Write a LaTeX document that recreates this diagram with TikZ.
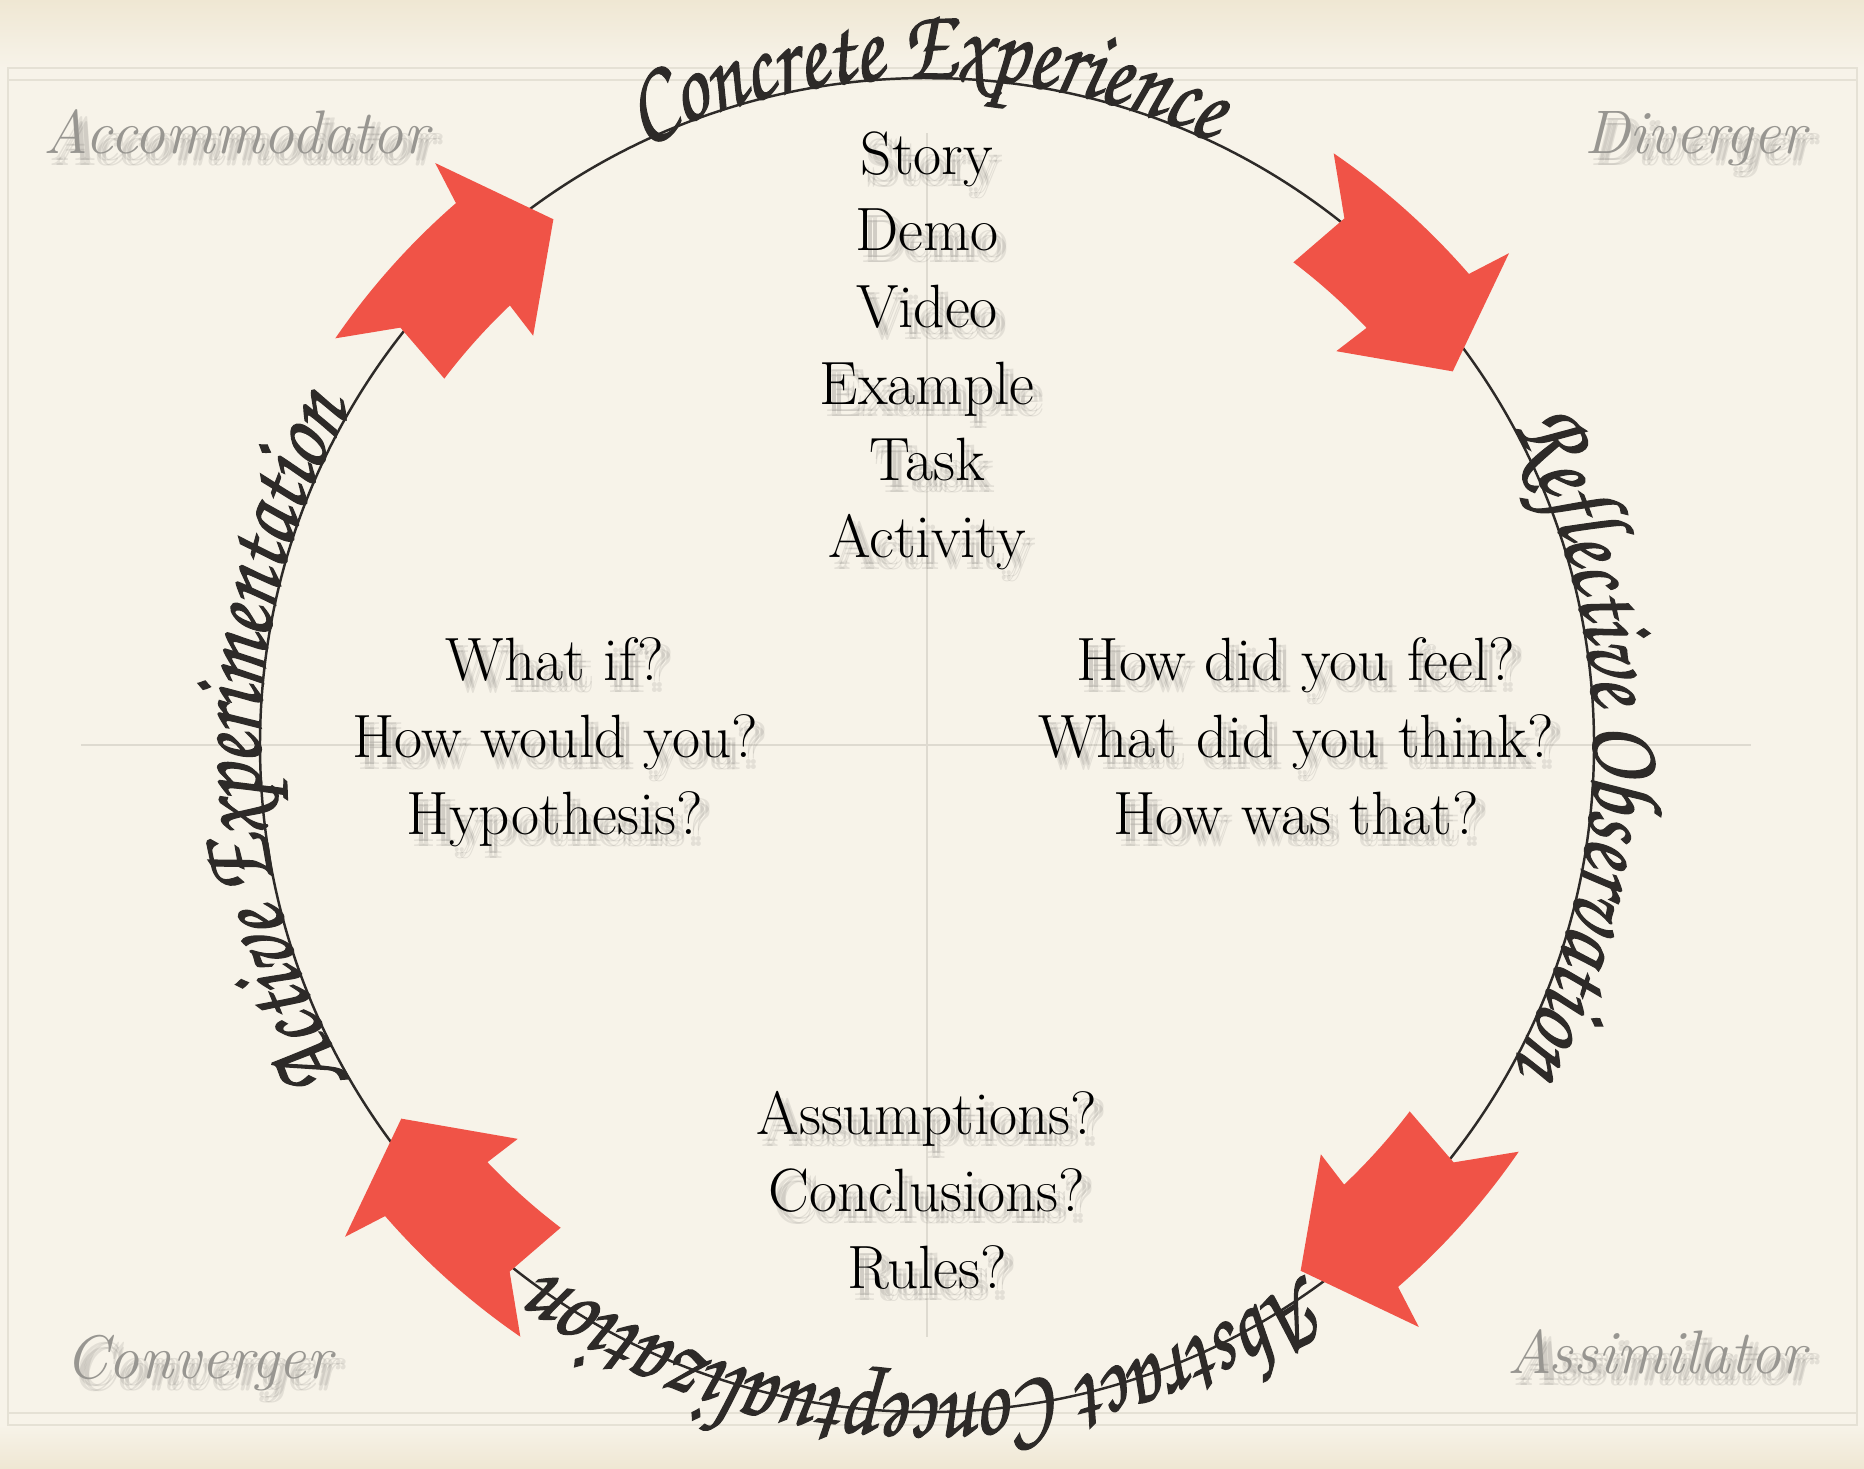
\documentclass[tikz,border=0pt]{standalone}
\usepackage{fontspec}
\usepackage{tikz}
\usetikzlibrary{calc,decorations.text}
\newfontfamily\handfont[FakeStretch=0.8,FakeBold=1.2]{texgyrechorus-mediumitalic.otf}
\definecolor{PaperCream}{RGB}{247,243,233}
\definecolor{PaperTop}{RGB}{239,231,211}
\definecolor{FrameGray}{RGB}{229,225,213}
\definecolor{CrossGray}{RGB}{222,218,208}
\definecolor{ArrowRed}{RGB}{240,83,71}
\definecolor{InkDark}{RGB}{45,42,40}
\definecolor{StyleGray}{RGB}{152,150,145}
\tikzstyle{listText}=[anchor=base, inner sep=0pt, text=black, font=\fontsize{17.4}{21.8}\selectfont]
\tikzstyle{styleLabel}=[inner sep=0pt, text=StyleGray, font=\fontsize{17.5}{21}\selectfont\itshape]
\tikzstyle{shadowCopy}=[text=black, text opacity=0.08]
\tikzstyle{cycleArrow}=[fill=ArrowRed, draw=none]
\tikzstyle{crossLine}=[draw=CrossGray, line width=0.4pt]
\tikzstyle{frameLine}=[draw=FrameGray, line width=0.8pt]
\tikzset{stageText/.style={decorate, decoration={text along path, text align=center, text color=InkDark, text={|\handfont\fontsize{29.5}{29.5}\selectfont|#1}}}}
\newcommand{\dropshadow}[3]{% blurred shadow behind a text
  \foreach \sx/\sy in {5/-7,10/-7,5/-12,10/-12}
    \node[#1, shadowCopy, shift={(\sx,\sy)}] at (#2) {#3};
}

\begin{document}
\begin{tikzpicture}[x=0.1mm, y=0.1mm]
	\useasboundingbox (0,0) rectangle (1864,-1468);

	% Paper and frame
	\fill[PaperCream] (0,0) rectangle (1864,-1468);
	\shade[top color=PaperTop, bottom color=PaperCream] (0,0) rectangle (1864,-68);
	\shade[top color=PaperCream, bottom color=PaperTop] (0,-1425) rectangle (1864,-1468);
	\draw[frameLine] (8,-68) rectangle (1857,-1425);
	\draw[frameLine] (8,-80) -- (1857,-80);
	\draw[frameLine] (8,-1413) -- (1857,-1413);

	% Cross
	\coordinate (ctr) at (927,-745);
	\draw[crossLine] (927,-133) -- (927,-1337);
	\draw[crossLine] (81,-745) -- (1751,-745);

	% Cycle
	\draw[InkDark, line width=0.7pt] (ctr) circle[radius=667];

	% Arrows, clockwise
	\foreach \b in {45,135,225,315} {
		\fill[cycleArrow] ($(ctr)+({\b+10.5}:718)$) arc[start angle={\b+10.5}, end angle={\b-4}, radius=718]
			-- ($(ctr)+({\b-4.8}:762)$) -- ($(ctr)+({\b-9.6}:645)$) -- ($(ctr)+({\b-1.1}:568)$)
			-- ($(ctr)+({\b-1.5}:606)$) arc[start angle={\b-1.5}, end angle={\b+7.8}, radius=606]
			-- ($(ctr)+({\b+6.6}:672)$) -- cycle;
	}

	% Stages along the cycle
	\path[stageText={Concrete Experience}] ([shift={(135:667)}]ctr) arc[start angle=135, end angle=45, radius=667];
	\path[stageText={Reflective Observation}] ([shift={(45:667)}]ctr) arc[start angle=45, end angle=-45, radius=667];
	\path[stageText={Abstract Conceptualization}] ([shift={(-45:650)}]ctr) arc[start angle=-45, end angle=-135, radius=650];
	\path[stageText={Active Experimentation}] ([shift={(225:667)}]ctr) arc[start angle=225, end angle=135, radius=667];

	% Learning styles
	\dropshadow{styleLabel, anchor=base west}{43,-153}{Accommodator}
	\node[styleLabel, anchor=base west] (acc) at (43,-153) {Accommodator};
	\dropshadow{styleLabel, anchor=base east}{1807,-153}{Diverger}
	\node[styleLabel, anchor=base east] (div) at (1807,-153) {Diverger};
	\dropshadow{styleLabel, anchor=base west}{65,-1378}{Converger}
	\node[styleLabel, anchor=base west] (con) at (65,-1378) {Converger};
	\dropshadow{styleLabel, anchor=base east}{1807,-1373}{Assimilator}
	\node[styleLabel, anchor=base east] (ass) at (1807,-1373) {Assimilator};

	% Concrete experience
	\foreach \word [count=\i] in {Story,Demo,Video,Example,Task,Activity} {
		\dropshadow{listText}{927,{-174-76.7*(\i-1)}}{\word}
		\node[listText] (ce\i) at (927,{-174-76.7*(\i-1)}) {\word};
	}

	% Active experimentation
	\foreach \word [count=\i] in {What if?,How would you?,Hypothesis?} {
		\dropshadow{listText}{555,{-680-77*(\i-1)}}{\word}
		\node[listText] (ae\i) at (555,{-680-77*(\i-1)}) {\word};
	}

	% Reflective observation
	\foreach \word [count=\i] in {How did you feel?,What did you think?,How was that?} {
		\dropshadow{listText}{1296,{-680-77*(\i-1)}}{\word}
		\node[listText] (ro\i) at (1296,{-680-77*(\i-1)}) {\word};
	}

	% Abstract conceptualization
	\foreach \word [count=\i] in {Assumptions?,Conclusions?,Rules?} {
		\dropshadow{listText}{927,{-1134-77*(\i-1)}}{\word}
		\node[listText] (ac\i) at (927,{-1134-77*(\i-1)}) {\word};
	}
\end{tikzpicture}
\end{document}
